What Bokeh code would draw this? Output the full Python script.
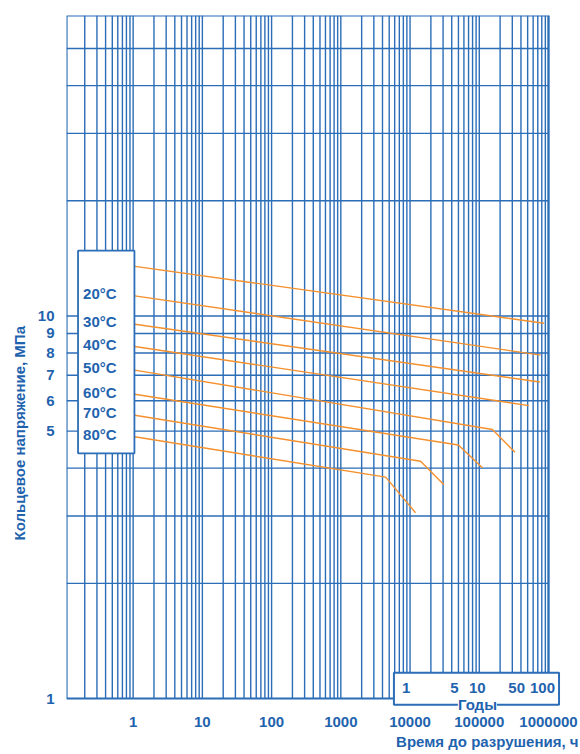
import math
from bokeh.plotting import figure
from bokeh.models import FixedTicker, Label, LabelSet, ColumnDataSource, Title
from bokeh.core.properties import value
from bokeh.embed import file_html
from bokeh.resources import INLINE

# ---------------- data ----------------
x_ticks = [1, 10, 100, 1000, 10000, 100000, 1000000]
x_tick_labels = ["1", "10", "100", "1000", "10000", "100000", "1000000"]
y_ticks = [1, 5, 6, 7, 8, 9, 10]
y_tick_labels = ["1", "5", "6", "7", "8", "9", "10"]
y_grid = [2, 3, 4, 5, 6, 7, 8, 9, 10, 20, 30, 40, 50]

curve_names = ["", "20°C", "30°C", "40°C", "50°C", "60°C", "70°C", "80°C"]
curve_hours = [
    [1, 8.6e5],
    [1, 7.7e5],
    [1, 7.5e5],
    [1, 5.2e5],
    [1, 1.55e5, 3.28e5],
    [1, 4.99e4, 1.11e5],
    [1, 1.42e4, 3.09e4],
    [1, 4.44e3, 1.2e4],
]
curve_stress = [
    [13.5, 9.57],
    [11.3, 7.9],
    [9.53, 6.72],
    [8.33, 5.83],
    [7.23, 5.05, 4.40],
    [6.25, 4.60, 4.01],
    [5.51, 4.17, 3.62],
    [4.84, 3.79, 3.06],
]

years = [1, 5, 10, 50, 100]
year_labels = ["1", "5", "10", "50", "100"]
HOURS_PER_YEAR = 8760

# ---------------- style / layout ----------------
BLUE = "#1f63ae"
GRID = "#2b6db7"
ORANGE = "#f5902d"
FONT = "Liberation Sans"

X0, X1 = 0.109, 1e6      # chart box in data units
Y0, Y1 = 1, 61
BOX_W, BOX_H = 482, 683   # chart box in pixels
DEC_X = BOX_W / (math.log10(X1) - math.log10(X0))
DEC_Y = BOX_H / (math.log10(Y1) - math.log10(Y0))
FRAME_W, FRAME_H = 494, 699
x_end = 10 ** (math.log10(X0) + FRAME_W / DEC_X)
y_start = 10 ** (math.log10(Y1) - FRAME_H / DEC_Y)

p = figure(frame_width=FRAME_W, frame_height=FRAME_H,
           x_axis_type="log", y_axis_type="log",
           x_range=(X0, x_end), y_range=(y_start, Y1),
           min_border_left=66, min_border_right=20,
           min_border_top=15, min_border_bottom=40,
           output_backend="svg", toolbar_location=None)
p.background_fill_color = "white"
p.border_fill_color = "white"
p.outline_line_color = None
p.xgrid.visible = False
p.ygrid.visible = False

# grid lines (drawn as segments so they stop at the chart box)
xg = []
for e in range(-1, 7):
    for k in range(1, 10):
        v = k * 10 ** e
        if X0 * 1.01 < v <= X1:
            xg.append(v)
p.segment(x0=xg, y0=[Y0] * len(xg), x1=xg, y1=[Y1] * len(xg),
          line_color=GRID, line_width=1.4)
p.segment(x0=[X0] * len(y_grid), y0=y_grid, x1=[X1] * len(y_grid), y1=y_grid,
          line_color=GRID, line_width=1.4)

# axes
p.xaxis.ticker = FixedTicker(ticks=x_ticks)
p.xaxis.major_label_overrides = {t: l for t, l in zip(x_ticks, x_tick_labels)}
p.yaxis.ticker = FixedTicker(ticks=y_ticks)
p.yaxis.major_label_overrides = {t: l for t, l in zip(y_ticks, y_tick_labels)}
for ax in (p.xaxis, p.yaxis):
    ax.axis_line_color = None
    ax.major_tick_line_color = None
    ax.minor_tick_line_color = None
    ax.major_tick_out = 0
    ax.major_tick_in = 0
    ax.minor_tick_out = 0
    ax.major_label_text_font = FONT
    ax.major_label_text_font_style = "bold"
    ax.major_label_text_font_size = "15px"
    ax.major_label_text_color = BLUE
p.xaxis.major_label_standoff = 2
p.yaxis.major_label_standoff = 12

# curves
for hrs, st in zip(curve_hours, curve_stress):
    p.line(hrs, st, line_color=ORANGE, line_width=1.4)

# chart border
p.quad(left=[X0], right=[X1], bottom=[Y0], top=[Y1],
       fill_alpha=0, line_color=GRID, line_width=2.2)

# legend box with temperatures
p.quad(left=[0.160], right=[1.044], bottom=[4.375], top=[14.81],
       fill_color="white", fill_alpha=1.0, line_color=GRID, line_width=1.8)
lab_names = [n for n in curve_names if n]
lab_y = [s[0] for n, s in zip(curve_names, curve_stress) if n]
leg_src = ColumnDataSource(dict(x=[0.189] * len(lab_names), y=lab_y, text=lab_names))
p.add_layout(LabelSet(x="x", y="y", text="text", source=leg_src,
                      text_align="left", text_baseline="middle", y_offset=2,
                      text_font=value(FONT), text_font_style="bold",
                      text_font_size="15px", text_color=BLUE))

# years box
p.quad(left=[5850], right=[1.42e6], bottom=[0.963], top=[1.167],
       fill_color="white", fill_alpha=1.0, line_color=GRID, line_width=2.0)
yr_src = ColumnDataSource(dict(x=[y * HOURS_PER_YEAR for y in years],
                               y=[1.064] * len(years), text=year_labels,
                               dx=[0, 0, 2, -7, -2]))
p.add_layout(LabelSet(x="x", y="y", text="text", source=yr_src, x_offset="dx",
                      text_align="center", text_baseline="middle",
                      text_font=value(FONT), text_font_style="bold",
                      text_font_size="15px", text_color=BLUE))
p.add_layout(Label(x=9.4e4, y=0.9645, text="Годы", text_align="center",
                   text_baseline="middle", text_font=FONT, text_font_style="bold",
                   text_font_size="15px", text_color=BLUE,
                   background_fill_color="white", background_fill_alpha=1.0))

# axis titles
p.add_layout(Title(text="Время до разрушения, ч", align="right", offset=-18,
                   standoff=2, text_font=FONT, text_font_style="bold",
                   text_font_size="15px", text_color=BLUE), "below")
p.add_layout(Title(text="Кольцевое напряжение, МПа", align="left", offset=174,
                   standoff=10, vertical_align="top", text_font=FONT,
                   text_font_style="bold", text_font_size="15px",
                   text_color=BLUE), "left")

open("out.html", "w").write(file_html(p, INLINE))
